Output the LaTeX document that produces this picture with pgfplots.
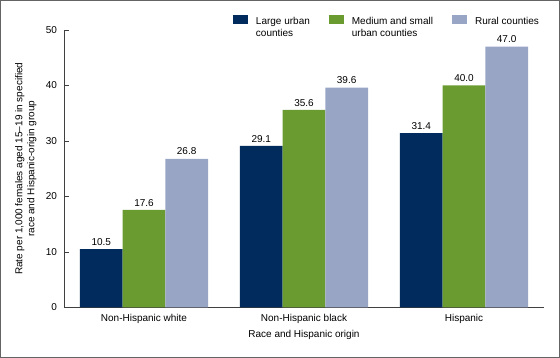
\documentclass[border=0pt]{standalone}
\usepackage{fontspec}
\setmainfont{Liberation Sans}
\usepackage{pgfplots}
\pgfplotsset{compat=1.18}
\definecolor{navy}{RGB}{0,43,92}
\definecolor{grn}{RGB}{106,155,49}
\definecolor{lblue}{RGB}{152,165,197}
\definecolor{axgray}{RGB}{64,64,64}
\definecolor{framegray}{RGB}{100,100,100}
\begin{document}
\fontsize{10}{12}\selectfont
\begin{tikzpicture}[font=\fontsize{10}{12}\selectfont]
\path[use as bounding box] (0,0) rectangle (560pt,358pt);
\begin{axis}[
  at={(64pt,50.5pt)}, anchor=south west,
  scale only axis, width=480pt, height=277.5pt,
  xmin=-0.5, xmax=2.5, ymin=0, ymax=50,
  axis lines*=left,
  axis line style={axgray, line width=0.9pt},
  clip=false,
  ybar=0pt, bar width=42.67pt,
  every axis plot/.append style={legend image code/.code={\fill[##1] (0pt,0pt) rectangle (15pt,9pt);}},
  /pgf/number format/assume math mode=true,
  xtick={0,1,2},
  xticklabels={Non-Hispanic white, Non-Hispanic black, Hispanic},
  x tick style={draw=none},
  xticklabel style={anchor=base, yshift=-14.5pt},
  ytick={0,10,...,50},
  tick align=inside, major tick length=5pt,
  y tick style={axgray, line width=0.9pt},
  yticklabel style={xshift=-3.5pt},
  ylabel={\begin{tabular}{@{}c@{}}Rate per 1,000 females aged 15--19 in specified\\race and Hispanic-origin group\end{tabular}},
  ylabel style={at={(axis description cs:-0.079,0.5)}, anchor=center},
  xlabel={Race and Hispanic origin},
  xlabel style={at={(axis description cs:0.5,0)}, anchor=base, yshift=-30.5pt},
  nodes near coords={\pgfmathprintnumber[fixed,fixed zerofill,precision=1]{\pgfplotspointmeta}},
  every node near coord/.append style={anchor=south, inner sep=0pt, yshift=3.5pt, text=black},
  legend columns=3,
  legend cell align=left,
  legend style={at={(0.352,1.054)}, anchor=north west, draw=none, fill=none,
    inner sep=0pt, outer sep=0pt, column sep=0pt, row sep=0pt,
    cells={anchor=base west}, nodes={inner sep=0pt, anchor=base west},
    /tikz/every odd column/.append style={column sep=8pt},
    /tikz/every even column/.append style={column sep=19pt}},
]
\addplot[fill=navy, draw=none] coordinates {(0,10.5) (1,29.1) (2,31.4)};
\addlegendentry{\begin{tabular}[t]{@{}l@{}}Large urban\\counties\end{tabular}}
\addplot[fill=grn, draw=none] coordinates {(0,17.6) (1,35.6) (2,40.0)};
\addlegendentry{\begin{tabular}[t]{@{}l@{}}Medium and small\\urban counties\end{tabular}}
\addplot[fill=lblue, draw=none] coordinates {(0,26.8) (1,39.6) (2,47.0)};
\addlegendentry{Rural counties}
\end{axis}
\draw[framegray, line width=1.2pt] (0.6pt,0.6pt) rectangle (559.4pt,357.4pt);
\end{tikzpicture}
\end{document}
